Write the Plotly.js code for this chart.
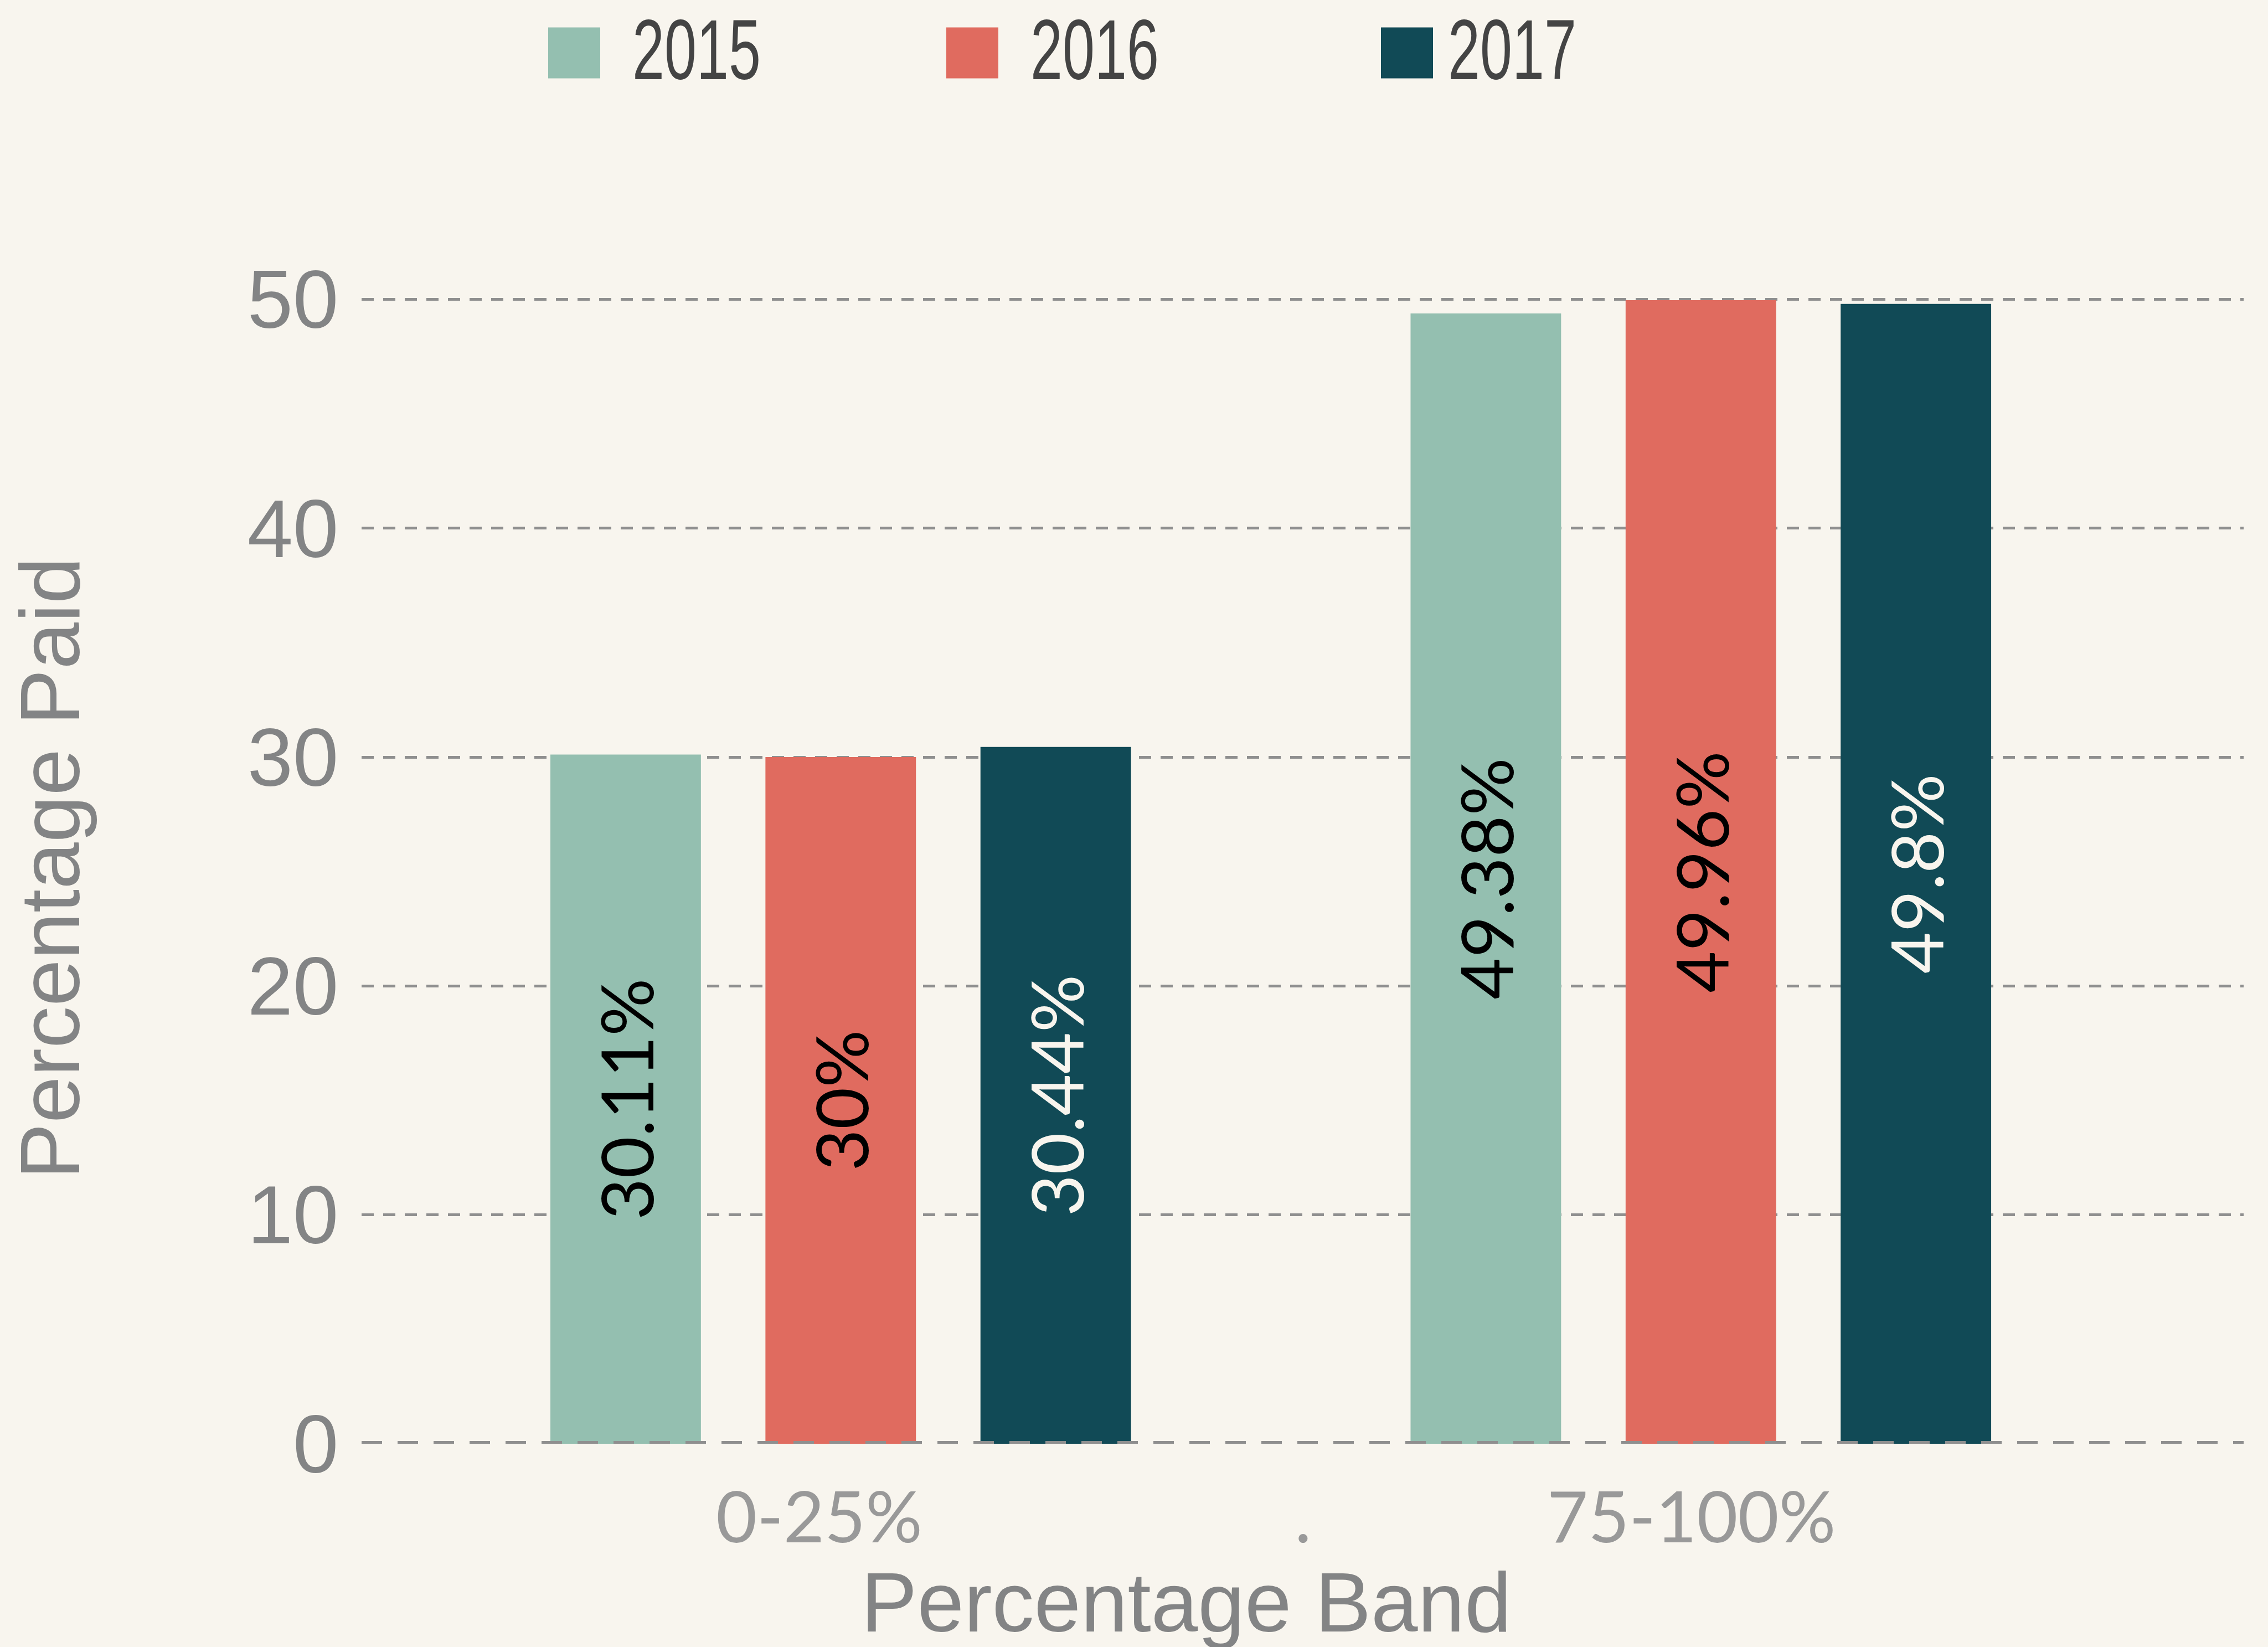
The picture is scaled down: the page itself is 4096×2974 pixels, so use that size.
<!DOCTYPE html>
<html><head><meta charset="utf-8">
<script src="https://cdn.plot.ly/plotly-3.0.1.min.js"></script>
<style>html,body{margin:0;padding:0;background:#F8F5EE;} #chart{width:4096px;height:2974px;}</style>
</head><body><div id="chart"></div>
<script>
// ---- data ----
const bands = ["0-25%", "75-100%"];
const years = ["2015", "2016", "2017"];
const values2015 = [30.11, 49.38];
const values2016 = [30, 49.96];
const values2017 = [30.44, 49.8];
const xTickLabels = ["0-25%", ".", "75-100%"];
const yTickValues = [0, 10, 20, 30, 40, 50];

// ---- styles ----
const colors = ["#94BFB0", "#E06B5F", "#114A56"];
const textColors = ["#000000", "#000000", "#F8F5EE"];
const legendWidths = [504, 539, 300];
const swatchShift = [0, 0, 31];
const series = [values2015, values2016, values2017];
const bandIndex = bands.map((b, i) => i);

const traces = series.map((vals, i) => ({
  type: 'bar',
  name: years[i],
  x: bandIndex,
  y: vals,
  customdata: bands,
  marker: {color: colors[i], line: {width: 0}},
  texttemplate: '%{y}%',
  textposition: 'inside',
  insidetextanchor: 'middle',
  textangle: -90,
  textfont: {family: 'Lato', size: 130, color: textColors[i]},
  legendwidth: legendWidths[i],
  hovertemplate: '%{customdata}: %{y}%<extra>' + years[i] + '</extra>'
}));

const W = 4096, H = 2974;
const mL = 653, mR = 44, mT = 528, mB = 367;
const plotW = W - mL - mR, plotH = H - mT - mB;
const greyAxis = '#838485';
const sansFont = 'Liberation Sans, Arial, sans-serif';

const layout = {
  width: W, height: H,
  paper_bgcolor: '#F8F5EE', plot_bgcolor: '#F8F5EE',
  margin: {l: mL, r: mR, t: mT, b: mB, pad: 0, autoexpand: false},
  barmode: 'group', bargap: 0.25, bargroupgap: 0.3,
  xaxis: {
    type: 'linear', range: [-0.557, 1.631],
    tickmode: 'array', tickvals: [-0.025, 0.5375, 0.989], ticktext: xTickLabels,
    showgrid: false, zeroline: false, showline: false,
    ticks: 'outside', ticklen: 23, tickcolor: 'rgba(0,0,0,0)',
    tickfont: {family: 'Lato', size: 128, color: '#999999'}
  },
  yaxis: {
    range: [0, 50.3],
    tickmode: 'array', tickvals: yTickValues,
    showgrid: true, gridcolor: '#8F8F8F', gridwidth: 5, griddash: '22px,17px',
    zeroline: false, showline: false,
    ticks: 'outside', ticklen: 11, tickcolor: 'rgba(0,0,0,0)',
    tickfont: {family: sansFont, size: 148, color: greyAxis}
  },
  showlegend: true,
  legend: {
    orientation: 'h', xref: 'container', yref: 'paper',
    x: 932 / W, xanchor: 'left', y: 1 + (mT + 24) / plotH, yanchor: 'top',
    font: {family: sansFont, size: 154, color: '#444444'},
    itemwidth: 200, bgcolor: 'rgba(0,0,0,0)', borderwidth: 0, traceorder: 'normal'
  },
  shapes: [{
    type: 'line', xref: 'paper', x0: 0, x1: 1, yref: 'y', y0: 0, y1: 0,
    line: {color: '#8F8F8F', width: 10, dash: '37px,28px'}, layer: 'above'
  }],
  annotations: [
    { // x-axis title
      text: 'Percentage Band', showarrow: false,
      xref: 'paper', yref: 'paper',
      x: (2142 - mL) / plotW, xanchor: 'center',
      y: -(2806 - (H - mB)) / plotH, yanchor: 'top',
      font: {family: sansFont, size: 152, color: greyAxis}
    },
    { // y-axis title
      text: 'Percentage Paid', showarrow: false, textangle: -90,
      xref: 'paper', yref: 'paper',
      x: (2 - mL) / plotW, xanchor: 'left',
      y: 0.5, yanchor: 'middle',
      font: {family: sansFont, size: 152, color: greyAxis}
    }
  ]
};

Plotly.newPlot('chart', traces, layout, {staticPlot: true}).then(gd => {
  // enlarge the legend swatches to the reference's square size
  gd.querySelectorAll('.legend g.traces').forEach((g, i) => {
    const s = swatchShift[i] || 0;
    g.querySelectorAll('.legendpoints path').forEach(p => {
      p.setAttribute('d', `M${47 + s},59H${-47 + s}V-33H${47 + s}Z`);
    });
  });
  // condensed look of the legend labels
  gd.querySelectorAll('.legend text.legendtext').forEach(t => {
    t.setAttribute('textLength', '232');
    t.setAttribute('lengthAdjust', 'spacingAndGlyphs');
  });
});
</script>
</body></html>
